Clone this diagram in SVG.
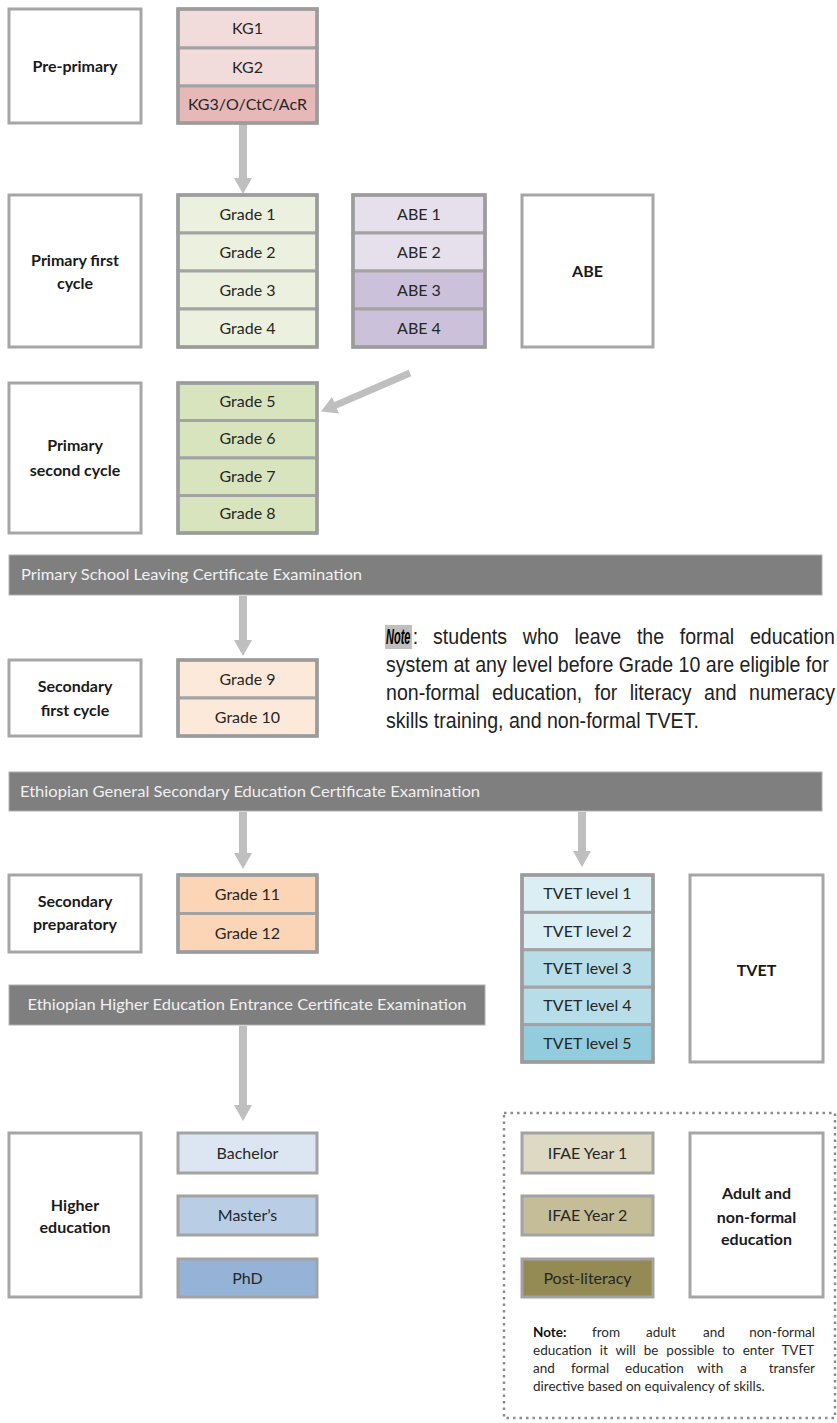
<svg xmlns="http://www.w3.org/2000/svg" width="837" height="1423" viewBox="0 0 837 1423">
<style>
.box{fill:#ffffff;stroke:#a6a6a6;stroke-width:3}
.cell{stroke:#a3a3a3;stroke-width:3}
.outer{fill:none;stroke:#9c9c9c;stroke-width:3.5}
.lbl{font-family:Lato,"Liberation Sans",sans-serif;font-size:16px;fill:#262626;text-anchor:middle}
.b{font-weight:bold;fill:#1a1a1a}
.bar{fill:#7f7f7f;stroke:#b0b0b0;stroke-width:1}
.bartxt{font-family:Lato,"Liberation Sans",sans-serif;font-size:15px;fill:#f0f0f0}
.conn{stroke:#bfbfbf;stroke-width:8;fill:none;marker-end:url(#ah)}
.note1{font-family:"Liberation Sans",Arial,sans-serif;font-size:22px;fill:#222222}
.note2{font-family:Lato,"Liberation Sans",sans-serif;font-size:13.5px;fill:#2a2a2a}
.k1{fill:#f2dcdb}.k3{fill:#e6b9b8}
.g1{fill:#ebf1de}.g5{fill:#d7e4bd}
.a1{fill:#e5e0ec}.a3{fill:#ccc1da}
.g9{fill:#fde9d9}.g11{fill:#fbd5b5}
.t1{fill:#dbeef3}.t3{fill:#b7dde8}.t5{fill:#93cddd}
.h1{fill:#dce6f2}.h2{fill:#b9cde5}.h3{fill:#95b3d7}
.i1{fill:#ddd9c3}.i2{fill:#c4bd97}.i3{fill:#948a54}
</style>
<defs>
<marker id="ah" markerUnits="userSpaceOnUse" viewBox="0 0 16 18" markerWidth="16" markerHeight="18" refX="1" refY="9" orient="auto">
<path d="M0,0 L16,9 L0,18 z" fill="#bfbfbf"/>
</marker>
</defs>
<rect width="837" height="1423" fill="#ffffff"/>

<!-- connectors -->
<g id="connectors">
<line class="conn" x1="243" y1="124" x2="243" y2="179"/>
<line class="conn" x1="410" y1="373" x2="334.7" y2="405.6" style="stroke-width:7"/>
<line class="conn" x1="243" y1="596" x2="243" y2="641"/>
<line class="conn" x1="243" y1="812" x2="243" y2="854"/>
<line class="conn" x1="582" y1="812" x2="582" y2="852"/>
<line class="conn" x1="243" y1="1026" x2="243" y2="1106"/>
</g>

<!-- row labels -->
<g id="pre-primary"><rect class="box" x="9" y="9" width="132" height="114"/><text class="lbl b" x="75" y="72">Pre-primary</text></g>
<g id="primary-first"><rect class="box" x="9" y="195" width="132" height="152"/><text class="lbl b" x="75" y="266">Primary first</text><text class="lbl b" x="75" y="289">cycle</text></g>
<g id="primary-second"><rect class="box" x="9" y="383" width="132" height="150"/><text class="lbl b" x="75" y="451">Primary</text><text class="lbl b" x="75" y="476">second cycle</text></g>
<g id="secondary-first"><rect class="box" x="9" y="660" width="132" height="76"/><text class="lbl b" x="75" y="692">Secondary</text><text class="lbl b" x="75" y="716">first cycle</text></g>
<g id="secondary-prep"><rect class="box" x="9" y="875" width="132" height="77"/><text class="lbl b" x="75" y="907">Secondary</text><text class="lbl b" x="75" y="930">preparatory</text></g>
<g id="higher"><rect class="box" x="9" y="1133" width="132" height="164"/><text class="lbl b" x="75" y="1211">Higher</text><text class="lbl b" x="75" y="1233">education</text></g>
<g id="abe"><rect class="box" x="522" y="195" width="131" height="152"/><text class="lbl b" x="587.5" y="277">ABE</text></g>
<g id="tvet"><rect class="box" x="690" y="875" width="133" height="187"/><text class="lbl b" x="756.5" y="976">TVET</text></g>
<g id="adult"><rect class="box" x="690" y="1133" width="133" height="164"/><text class="lbl b" x="756.5" y="1199">Adult and</text><text class="lbl b" x="756.5" y="1223">non-formal</text><text class="lbl b" x="756.5" y="1245">education</text></g>

<!-- kindergarten -->
<g id="kg">
<rect class="cell k1" x="178" y="9" width="139" height="39"/>
<rect class="cell k1" x="178" y="48" width="139" height="38"/>
<rect class="cell k3" x="178" y="86" width="139" height="37"/>
<rect class="outer" x="178" y="9" width="139" height="114"/>
<text class="lbl" x="247.5" y="34">KG1</text>
<text class="lbl" x="247.5" y="73">KG2</text>
<text class="lbl" x="247.5" y="110">KG3/O/CtC/AcR</text>
</g>

<g id="grades-1-4">
<rect class="cell g1" x="178" y="195" width="139" height="38"/>
<rect class="cell g1" x="178" y="233" width="139" height="38"/>
<rect class="cell g1" x="178" y="271" width="139" height="38"/>
<rect class="cell g1" x="178" y="309" width="139" height="38"/>
<rect class="outer" x="178" y="195" width="139" height="152"/>
<text class="lbl" x="247.5" y="220">Grade 1</text>
<text class="lbl" x="247.5" y="258">Grade 2</text>
<text class="lbl" x="247.5" y="296">Grade 3</text>
<text class="lbl" x="247.5" y="334">Grade 4</text>
</g>

<g id="abe-1-4">
<rect class="cell a1" x="353" y="195" width="132" height="38"/>
<rect class="cell a1" x="353" y="233" width="132" height="38"/>
<rect class="cell a3" x="353" y="271" width="132" height="38"/>
<rect class="cell a3" x="353" y="309" width="132" height="38"/>
<rect class="outer" x="353" y="195" width="132" height="152"/>
<text class="lbl" x="419" y="220">ABE 1</text>
<text class="lbl" x="419" y="258">ABE 2</text>
<text class="lbl" x="419" y="296">ABE 3</text>
<text class="lbl" x="419" y="334">ABE 4</text>
</g>

<g id="grades-5-8">
<rect class="cell g5" x="178" y="383" width="139" height="37.5"/>
<rect class="cell g5" x="178" y="420.5" width="139" height="37.5"/>
<rect class="cell g5" x="178" y="458" width="139" height="37.5"/>
<rect class="cell g5" x="178" y="495.5" width="139" height="37.5"/>
<rect class="outer" x="178" y="383" width="139" height="150"/>
<text class="lbl" x="247.5" y="407">Grade 5</text>
<text class="lbl" x="247.5" y="444">Grade 6</text>
<text class="lbl" x="247.5" y="482">Grade 7</text>
<text class="lbl" x="247.5" y="519">Grade 8</text>
</g>

<g id="exam-primary"><rect class="bar" x="9" y="555" width="813" height="40"/><text class="bartxt" x="21" y="580" textLength="341" lengthAdjust="spacingAndGlyphs">Primary School Leaving Certificate Examination</text></g>

<g id="grades-9-10">
<rect class="cell g9" x="178" y="660" width="139" height="38"/>
<rect class="cell g9" x="178" y="698" width="139" height="38"/>
<rect class="outer" x="178" y="660" width="139" height="76"/>
<text class="lbl" x="247.5" y="685">Grade 9</text>
<text class="lbl" x="247.5" y="723">Grade 10</text>
</g>

<g id="note-formal">
<rect x="385" y="625" width="27" height="24" fill="#bfbfbf"/>
<text class="note1" transform="translate(386 644) scale(0.5 1)" x="0" y="0" font-weight="bold" font-style="italic" style="fill:#000">Note</text>
<g transform="translate(386 0) scale(0.89 1)">
<text class="note1" y="644"><tspan x="30">:</tspan><tspan x="52.9">students</tspan><tspan x="153.7">who</tspan><tspan x="211.7">leave</tspan><tspan x="281.9">the</tspan><tspan x="330.1">formal</tspan><tspan x="408.9">education</tspan></text>
<text class="note1" x="0" y="672">system at any level before Grade 10 are eligible for</text>
<text class="note1" y="700"><tspan x="0">non-formal</tspan><tspan x="119">education,</tspan><tspan x="234.3">for</tspan><tspan x="273.8">literacy</tspan><tspan x="357.3">and</tspan><tspan x="407.9">numeracy</tspan></text>
<text class="note1" x="0" y="728">skills training, and non-formal TVET.</text>
</g>
</g>

<g id="exam-general"><rect class="bar" x="9" y="772" width="813" height="39"/><text class="bartxt" x="20" y="797" textLength="460" lengthAdjust="spacingAndGlyphs">Ethiopian General Secondary Education Certificate Examination</text></g>

<g id="grades-11-12">
<rect class="cell g11" x="178" y="875" width="139" height="38.5"/>
<rect class="cell g11" x="178" y="913.5" width="139" height="38.5"/>
<rect class="outer" x="178" y="875" width="139" height="77"/>
<text class="lbl" x="247.5" y="900">Grade 11</text>
<text class="lbl" x="247.5" y="939">Grade 12</text>
</g>

<g id="exam-higher"><rect class="bar" x="9" y="985" width="476" height="40"/><text class="bartxt" x="247" y="1010" text-anchor="middle" textLength="439" lengthAdjust="spacingAndGlyphs">Ethiopian Higher Education Entrance Certificate Examination</text></g>

<g id="tvet-levels">
<rect class="cell t1" x="522" y="875" width="131" height="37.4"/>
<rect class="cell t1" x="522" y="912.4" width="131" height="37.4"/>
<rect class="cell t3" x="522" y="949.8" width="131" height="37.4"/>
<rect class="cell t3" x="522" y="987.2" width="131" height="37.4"/>
<rect class="cell t5" x="522" y="1024.6" width="131" height="37.4"/>
<rect class="outer" x="522" y="875" width="131" height="187"/>
<text class="lbl" x="587.5" y="899">TVET level 1</text>
<text class="lbl" x="587.5" y="937">TVET level 2</text>
<text class="lbl" x="587.5" y="974">TVET level 3</text>
<text class="lbl" x="587.5" y="1011">TVET level 4</text>
<text class="lbl" x="587.5" y="1049">TVET level 5</text>
</g>

<g id="bachelor"><rect class="cell h1" x="178" y="1133" width="139" height="40"/><text class="lbl" x="247.5" y="1159">Bachelor</text></g>
<g id="masters"><rect class="cell h2" x="178" y="1196" width="139" height="39"/><text class="lbl" x="247.5" y="1221">Master’s</text></g>
<g id="phd"><rect class="cell h3" x="178" y="1259" width="139" height="38"/><text class="lbl" x="247.5" y="1284">PhD</text></g>

<g id="adult-frame"><rect x="504" y="1113" width="331" height="305" fill="none" stroke="#8c8c8c" stroke-width="2.5" stroke-dasharray="2.5 4"/></g>

<g id="ifae1"><rect class="cell i1" x="522" y="1133" width="131" height="40"/><text class="lbl" x="587.5" y="1159">IFAE Year 1</text></g>
<g id="ifae2"><rect class="cell i2" x="522" y="1196" width="131" height="39"/><text class="lbl" x="587.5" y="1221">IFAE Year 2</text></g>
<g id="post-literacy"><rect class="cell i3" x="522" y="1259" width="131" height="38"/><text class="lbl" x="587.5" y="1284">Post-literacy</text></g>

<g id="note-adult">
<text class="note2" y="1337"><tspan x="533" font-weight="bold" fill="#111">Note:</tspan><tspan x="592">from</tspan><tspan x="646">adult</tspan><tspan x="703">and</tspan><tspan x="815" text-anchor="end">non-formal</tspan></text>
<text class="note2" x="533" y="1355" word-spacing="4.5">education it will be possible to enter TVET</text>
<text class="note2" y="1373"><tspan x="533">and</tspan><tspan x="571">formal</tspan><tspan x="625">education</tspan><tspan x="697">with</tspan><tspan x="740">a</tspan><tspan x="815" text-anchor="end">transfer</tspan></text>
<text class="note2" x="533" y="1391">directive based on equivalency of skills.</text>
</g>
</svg>
